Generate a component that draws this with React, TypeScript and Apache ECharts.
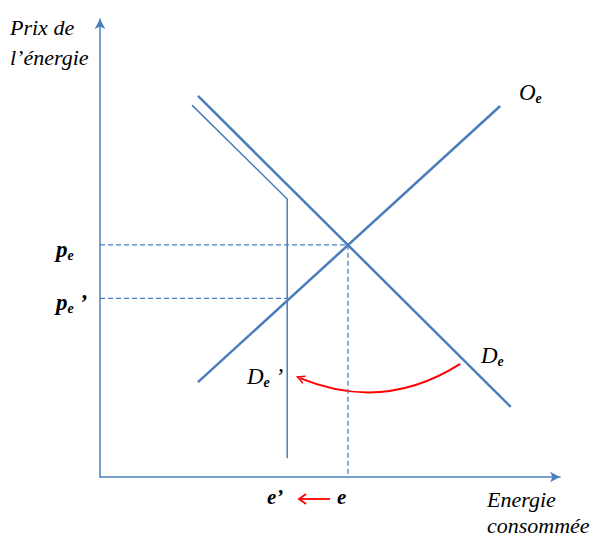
import React, { useEffect, useRef } from "react";
import * as echarts from "echarts";

// Curves (x = energy consumed, y = price), in chart units 0..100
const supplyCurve: [number, number][] = [[21.3, 20.7], [87.0, 81.0]];
const demandCurve: [number, number][] = [[21.3, 83.2], [89.3, 15.3]];
const newDemandCurve: [number, number][] = [[20.0, 81.2], [40.7, 60.7], [40.7, 4.1]];
const equilibrium = { e: 53.9, pe: 50.7 };
const newEquilibrium = { e: 40.7, pe: 39.0 };
const shiftArrow: [number, number][] = [[78.3, 24.7], [43.5, 21.6]];

const BLUE = "#4a7ebb";
const RED = "#ff0000";
const FONT = "Liberation Serif";

export default function App() {
  const ref = useRef<HTMLDivElement>(null);
  useEffect(() => {
    if (!ref.current) return;
    const chart = echarts.init(ref.current, undefined, { renderer: "svg" });
    const sub = { fontSize: 14, fontWeight: "bold" as const, fontStyle: "italic" as const, fontFamily: FONT, color: "#000", padding: [12, 0, 0, 0] };
    const main = { fontSize: 23, fontStyle: "italic" as const, fontFamily: FONT, color: "#000" };
    const mainB = { ...main, fontWeight: "bold" as const };
    const plain = (size: number, bold = false) => ({ fontSize: size, fontStyle: "italic", fontWeight: bold ? "bold" : "normal", fontFamily: FONT, fill: "#000" });
    chart.setOption({
      animation: false,
      grid: { left: 100, top: 19, right: 36, bottom: 59 },
      xAxis: {
        type: "value", min: 0, max: 100,
        axisLine: { lineStyle: { color: BLUE, width: 1.5 }, symbol: ["none", "arrow"], symbolSize: [8, 10] },
        axisTick: { show: false }, axisLabel: { show: false }, splitLine: { show: false },
      },
      yAxis: {
        type: "value", min: 0, max: 100,
        axisLine: { show: true, lineStyle: { color: BLUE, width: 1.5 }, symbol: ["none", "arrow"], symbolSize: [8, 10] },
        axisTick: { show: false }, axisLabel: { show: false }, splitLine: { show: false },
      },
      series: [
        {
          type: "line", data: [[0, equilibrium.pe], [equilibrium.e, equilibrium.pe], [equilibrium.e, 0]],
          symbol: "none", lineStyle: { color: BLUE, width: 1.3, type: [5, 3] },
        },
        {
          type: "line", data: [[0, newEquilibrium.pe], [newEquilibrium.e, newEquilibrium.pe]],
          symbol: "none", lineStyle: { color: BLUE, width: 1.3, type: [5, 3] },
        },
        { type: "line", data: supplyCurve, symbol: "none", lineStyle: { color: BLUE, width: 2.5 } },
        { type: "line", data: demandCurve, symbol: "none", lineStyle: { color: BLUE, width: 2.5 } },
        { type: "line", data: newDemandCurve, symbol: "none", lineStyle: { color: BLUE, width: 1.5 } },
        {
          type: "lines", coordinateSystem: "cartesian2d", silent: true,
          symbol: ["none", "path://M0,10 L5,0 L10,10 L8.2,10 L5,3.6 L1.8,10 Z"], symbolSize: [12, 9],
          lineStyle: { color: RED, width: 2, curveness: 0.26, opacity: 1 },
          data: [{ coords: shiftArrow }],
        },
      ],
      graphic: [
        { type: "text", x: 10, y: 12, style: { text: "Prix de\nl’énergie", ...plain(22), lineHeight: 30 } },
        { type: "text", x: 56, y: 236, style: { text: "{m|p}{s|e}", rich: { m: mainB, s: sub } } },
        { type: "text", x: 56, y: 289, style: { text: "{m|p}{s|e}{m| ’}", rich: { m: mainB, s: sub } } },
        { type: "text", x: 519, y: 79, style: { text: "{m|O}{s|e}", rich: { m: main, s: sub } } },
        { type: "text", x: 481, y: 342, style: { text: "{m|D}{s|e}", rich: { m: main, s: sub } } },
        { type: "text", x: 247, y: 363, style: { text: "{m|D}{s|e}{m| ’}", rich: { m: main, s: sub } } },
        { type: "text", x: 267, y: 486, style: { text: "e’", ...plain(21, true) } },
        { type: "text", x: 337, y: 486, style: { text: "e", ...plain(21, true) } },
        { type: "line", shape: { x1: 330, y1: 499, x2: 299, y2: 499 }, style: { stroke: RED, lineWidth: 1.8 } },
        { type: "polyline", shape: { points: [[306, 494], [299, 499], [306, 504]] }, style: { stroke: RED, lineWidth: 1.8, fill: "none" } },
        { type: "text", x: 487, y: 486, style: { text: "Energie\nconsommée", ...plain(22), lineHeight: 26 } },
      ],
    });
    return () => chart.dispose();
  }, []);
  return <div ref={ref} style={{ position: "absolute", left: 0, top: 0, width: 596, height: 536 }} />;
}
